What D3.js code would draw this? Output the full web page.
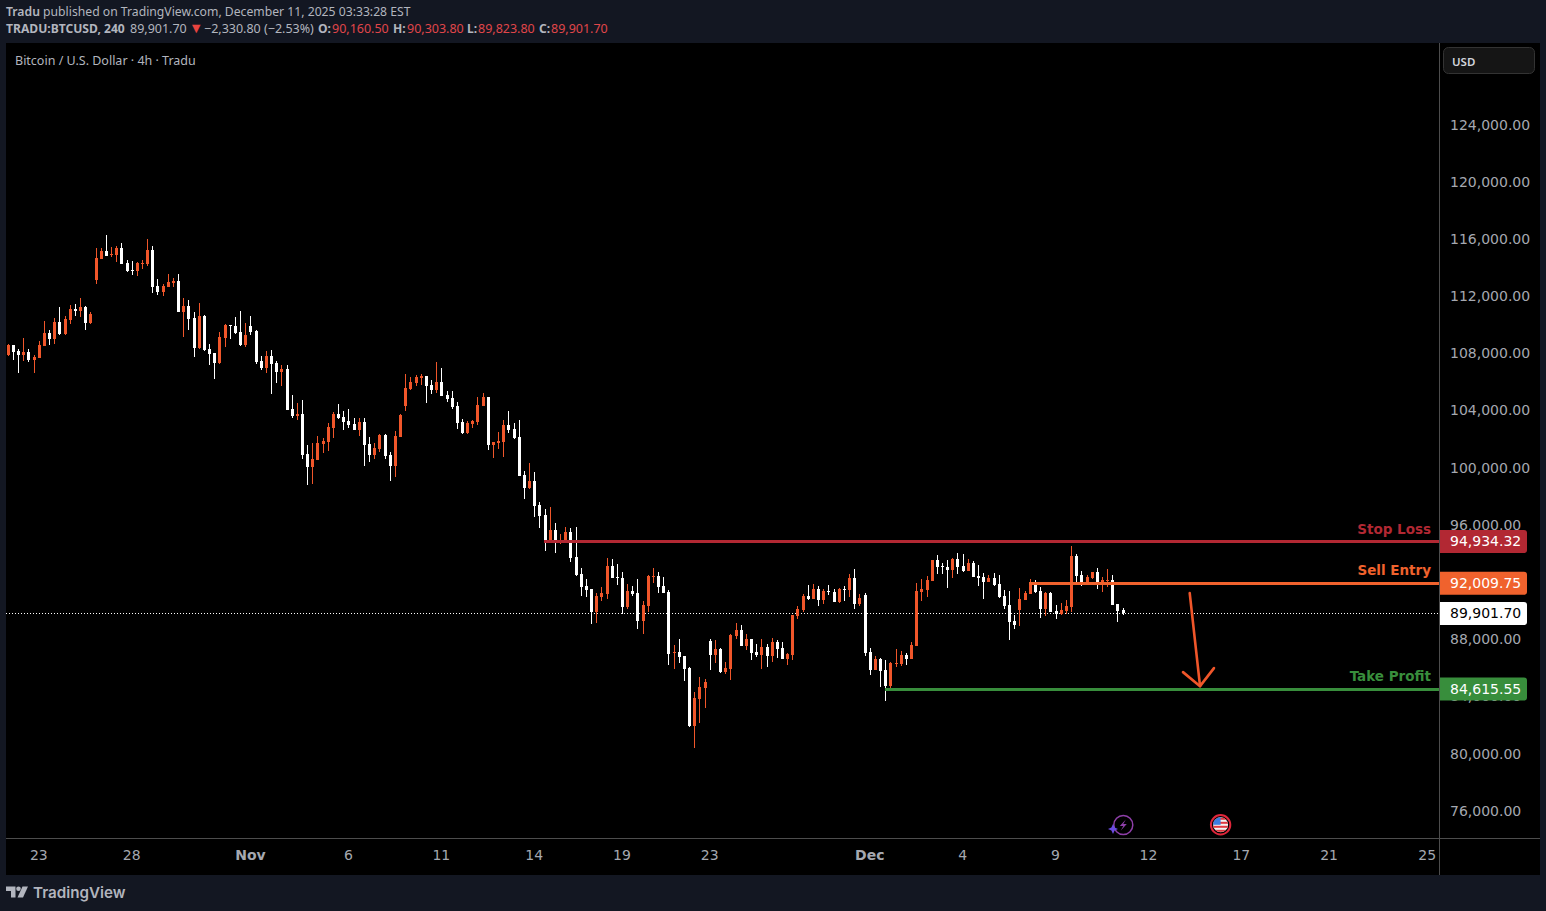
<!DOCTYPE html>
<meta charset="utf-8">
<style>
html, body { margin: 0; background: #131722; }
svg { display: block; }
text { font-family: "DejaVu Sans", sans-serif; }
.head { font-family: "Noto Sans", sans-serif; font-size: 12.2px; fill: #b2b5be; }
.axis text { font-size: 14px; fill: #a5a8b0; }
.axis path, .axis line { display: none; }
</style>
<svg width="1546" height="911"></svg>
<script src="https://d3js.org/d3.v7.min.js"></script>
<script>
// 4h candles, oldest first
var opens = [
  107970,108670,108250,107970,108180,107620,107760,108600,109510,109090,
  110280,109440,110420,111190,111050,111330,110210,113220,114690,115250,
  114970,114970,115460,114410,113920,113850,114340,114340,115320,112800,
  112380,112730,113010,113150,110980,111400,110560,108460,110700,108390,
  108110,107410,109160,110070,110000,109580,108670,110000,109650,107550,
  107060,107900,107410,106780,106990,104190,103700,103840,101040,100130,
  100620,101740,101880,102860,103840,103630,103350,103140,102720,103280,
  101740,100970,101390,102370,100970,100200,102230,104400,105590,106010,
  106360,106500,105870,105520,106080,105170,104960,104400,103280,102510,
  103140,103280,104400,105030,101670,101810,101880,103070,102790,102230,
  99570,98660,99150,97470,96770,95020,95720,94950,94950,95580,
  93830,92640,91800,91590,89980,91030,91240,93200,92430,92360,
  90330,91450,91310,89350,90400,92430,92500,91800,91380,87110,
  87180,86900,86060,82000,83890,84660,87950,86970,87390,85780,
  85990,88300,88720,87600,88090,87180,86970,87530,86900,87880,
  87460,86690,86970,89700,90120,91100,90890,91590,90820,91450,
  91380,90680,91590,91520,92360,90540,91170,87180,85920,86690,
  85920,84800,86340,86340,86970,86690,87600,91380,91520,92150,
  93620,93200,93130,92920,93690,93200,92850,93410,92500,92430,
  92080,92360,91940,91100,90470,89350,90120,90820,91240,91940,
  91450,90190,91310,90050,89840,90050,90330,93900,92570,92080,
  92360,92780,91870,92150,92220,90540,90160.5
];
var highs = [
  108740,108670,108390,109160,108390,107970,108950,110350,109720,110560,
  111330,110700,111470,111540,111960,111400,110980,115460,115460,116370,
  115530,115600,115810,114620,114550,114480,114620,116090,115600,113290,
  112940,113640,113360,113640,111960,111820,110980,111610,110770,108740,
  108110,109580,110140,110070,110630,111050,110210,110700,109720,107900,
  108250,108320,107550,107270,107270,105170,104610,104820,101670,101810,
  102300,102160,103210,103980,104540,104050,104190,103560,103560,103560,
  102230,101810,102440,102440,101180,102650,103840,106640,106430,106570,
  106640,106500,106220,107480,107060,105450,105450,104680,103490,103350,
  103420,105030,105310,105030,101880,102580,103420,104050,103210,103420,
  99850,100410,99780,97680,97190,97330,96210,95440,95930,95860,
  95930,93060,92290,91590,91310,91730,93760,93690,93340,92780,
  91940,91800,92290,90750,92570,93060,92780,92430,91520,87670,
  88090,86900,86130,84380,85430,85290,88090,88020,87460,86480,
  88440,89210,89070,88440,88090,87740,88090,87740,88160,88020,
  87880,87110,89770,90400,91240,91870,91940,91800,91590,91870,
  91590,91660,91800,92640,92990,91240,91310,87460,86900,86760,
  86620,86480,87390,87250,87110,87880,92010,92290,92500,93620,
  93970,93410,93620,93760,94110,94040,93690,93550,93270,92710,
  92570,92710,92570,91520,91450,89770,91660,91450,92290,92220,
  91730,91380,91380,90470,90610,90820,94600,94040,92850,92570,
  92780,93060,92430,92990,92570,90540,90303.8
];
var lows = [
  107900,107620,106710,107550,107480,106710,107760,108600,108670,108740,
  109370,109370,110140,110700,110630,109720,110140,112940,114690,114900,
  114830,114480,114340,113780,113570,113500,113990,114200,112310,112170,
  112100,112730,112730,110980,109230,109720,107830,108390,108250,107270,
  106290,107340,108530,109090,109440,108600,108530,109370,107340,106920,
  106710,105240,106010,105800,104120,103560,103420,100690,98870,98940,
  100620,101110,101250,102160,103490,102720,102860,102720,102300,100200,
  100480,100690,101180,100690,99150,99430,102230,104050,105520,105800,
  105870,104610,105240,105310,105100,104680,104190,102790,102440,102440,
  102860,103070,104400,101320,100760,101390,100830,102510,102090,99500,
  97890,98590,96630,95860,94250,94810,94110,94740,94810,93480,
  92500,91100,91030,89140,89210,90750,90890,92360,91870,89840,
  90190,91100,88790,88440,89980,92010,91310,91310,86270,85990,
  86410,85150,81930,80460,82210,83260,85920,86410,85710,85640,
  85220,88090,87600,87320,86620,86830,85990,86130,86480,86760,
  86690,86270,86620,89490,89980,90820,90890,90400,90540,91170,
  90680,90610,90750,91030,90190,90400,86900,85570,85920,84730,
  83750,84590,86130,86200,86270,86690,87600,90750,91030,92150,
  92640,92640,91660,92360,92640,92780,92850,92430,91800,90890,
  92080,91800,90960,90190,88020,88790,89000,90820,91240,91310,
  89560,89700,89980,89490,89770,89840,89980,92080,91800,92080,
  92290,91590,91380,91730,90470,89280,89823.8
];
var closes = [
  108670,108180,107970,108180,107620,107830,108670,109510,109090,110280,
  109440,110490,111190,111050,111330,110210,110840,114760,115250,114900,
  115040,115460,114340,113850,113850,114410,114410,115320,112730,112380,
  112800,113080,113150,110980,111400,110490,108460,110700,108320,108040,
  107410,109230,110070,110000,109510,108670,109370,109580,107480,107060,
  107900,107340,106780,106990,104120,103700,103840,100970,100130,100690,
  101810,101950,102930,103840,103560,103280,103070,102720,103280,101670,
  100970,101460,102370,100900,100200,102300,103770,105660,106080,106430,
  106500,105800,105520,106080,105100,104890,104330,103210,102510,103210,
  103350,104470,105030,101670,101880,101950,103070,102720,102160,99500,
  98660,99150,97400,96700,95020,95720,94950,95020,95580,93760,
  92570,91730,91520,89980,91100,91310,93200,92360,92360,90330,
  91450,91240,89350,90470,92500,92500,91730,91310,87040,87180,
  86830,85990,82000,83960,84730,85080,86970,87390,85780,86060,
  88370,88720,87600,88090,87110,86970,87530,86900,87880,87390,
  86690,87040,89770,90190,91100,90890,91590,90820,91450,91380,
  90680,91590,91520,92360,90540,90960,87110,85920,86690,85850,
  84800,86410,86410,86970,86690,87670,91450,91590,92220,93620,
  93130,93130,92920,93690,93130,92850,93410,92430,92360,92080,
  92360,91870,91030,90400,89280,89070,90890,91310,92080,91380,
  90190,91310,89980,89840,90120,90400,93900,92500,92080,92430,
  92780,91870,92220,92220,90470,90050,89901.7
];

var priceTicks = [76000,80000,84000,88000,92000,96000,100000,104000,108000,112000,116000,120000,124000];
var timeBars = [6,24,47,66,84,102,119,136,167,185,203,221,239,256,275];
var timeLabels = ["23","28","Nov","6","11","14","19","23","Dec","4","9","12","17","21","25"];

var levelNames = ["Stop Loss","Sell Entry","Take Profit"];
var levelPrices = [94934.32,92009.75,84615.55];
var levelStartBars = [103.8,197.7,169.8];
var levelColors = ["#b22833","#f0622d","#388e3c"];
var lastPrice = 89901.70;

// arrow sketched on the chart: [bar, price]
var arrowShaft = [[228.9,91330],[230.9,84820]];
var arrowHead = [[227.6,85800],[230.9,84820],[233.6,86080]];

var upColor = "#f0562a", downColor = "#ffffff";

var svg = d3.select("svg"),
    plotLeft = 6, plotRight = 1439, plotEdge = 1540, plotTop = 43, axisY = 838, plotBottom = 875;

svg.append("rect").attr("x", plotLeft).attr("y", plotTop).attr("width", plotEdge - plotLeft).attr("height", plotBottom - plotTop).attr("fill", "#000");

var x = d3.scaleLinear().domain([-0.45, 277.2]).range([plotLeft, plotRight]);
var y = d3.scaleLinear().domain([76000, 124000]).range([812.2, 126.1]);

// separators
svg.append("rect").attr("x", plotRight).attr("y", plotTop).attr("width", 1).attr("height", plotBottom - plotTop).attr("fill", "#4d4d4d");
svg.append("rect").attr("x", plotLeft).attr("y", axisY).attr("width", plotEdge - plotLeft).attr("height", 1).attr("fill", "#4d4d4d");

// header
var l1 = svg.append("text").attr("class", "head").attr("x", 6).attr("y", 16);
l1.append("tspan").attr("font-weight", 600).text("Tradu");
l1.append("tspan").text(" published on TradingView.com, December 11, 2025 03:33:28 EST");

// second header line: [text, x, weight, colour]
var quoteParts = [
  ["TRADU:BTCUSD, 240", 6, 700, null],
  ["89,901.70", 130, 400, null],
  ["▼", 189, 400, "#e8433f"],
  ["−2,330.80 (−2.53%)", 204, 400, null],
  ["O:", 318, 700, null],
  ["90,160.50", 332, 400, "#e0464a"],
  ["H:", 393, 700, null],
  ["90,303.80", 407, 400, "#e0464a"],
  ["L:", 467, 700, null],
  ["89,823.80", 478, 400, "#e0464a"],
  ["C:", 539, 700, null],
  ["89,901.70", 551, 400, "#e0464a"]
];
var l2 = svg.append("text").attr("class", "head").attr("y", 33).style("font-size", "12.5px");
quoteParts.forEach(function(d) {
  var t = l2.append("tspan").attr("x", d[1]).attr("font-weight", d[2]).text(d[0]);
  if (d[2] == 700) t.style("font-size", "12.1px");
  if (d[0] == "▼") t.style("font-size", "14.5px");
  if (d[3]) t.attr("fill", d[3]);
});

svg.append("text").attr("class", "head").attr("x", 15).attr("y", 65).style("font-size", "12.5px").text("Bitcoin / U.S. Dollar · 4h · Tradu");

// axes
svg.append("g").attr("class", "axis")
    .attr("transform", "translate(" + plotRight + ",0)")
    .call(d3.axisRight(y).tickValues(priceTicks).tickSize(0).tickPadding(11).tickFormat(d3.format(",.2f")))
  .selectAll("text").attr("y", -1.5);

svg.append("g").attr("class", "axis")
    .attr("transform", "translate(0," + axisY + ")")
    .call(d3.axisBottom(x).tickValues(timeBars).tickSize(0).tickPadding(12)
      .tickFormat(function(d, i) { return timeLabels[i]; }))
  .selectAll("text").attr("x", -1)
    .attr("font-weight", function(d, i) { return /[A-Z]/.test(timeLabels[i]) ? 700 : null; });

// last price dotted line
svg.append("line").attr("x1", plotLeft).attr("x2", plotRight)
    .attr("y1", Math.round(y(lastPrice)) + 0.5).attr("y2", Math.round(y(lastPrice)) + 0.5)
    .attr("stroke", "#fff").attr("stroke-dasharray", "1 2");

// candles
var candles = svg.append("g").attr("shape-rendering", "crispEdges")
  .selectAll("g").data(d3.range(opens.length)).join("g")
    .attr("fill", function(i) { return closes[i] >= opens[i] ? upColor : downColor; });

candles.append("rect")
    .attr("x", function(i) { return Math.floor(x(i)); })
    .attr("width", 1)
    .attr("y", function(i) { return Math.round(y(highs[i])); })
    .attr("height", function(i) { return Math.max(1, Math.round(y(lows[i])) - Math.round(y(highs[i]))); });

candles.append("rect")
    .attr("x", function(i) { return Math.floor(x(i)) - 1; })
    .attr("width", 3)
    .attr("y", function(i) { return Math.round(y(Math.max(opens[i], closes[i]))); })
    .attr("height", function(i) { return Math.max(1, Math.round(y(Math.min(opens[i], closes[i]))) - Math.round(y(Math.max(opens[i], closes[i])))); });

// trade levels
levelPrices.forEach(function(p, i) {
  svg.append("rect").attr("x", x(levelStartBars[i])).attr("y", Math.round(y(p) - 0.2) - 1)
      .attr("width", plotRight - x(levelStartBars[i])).attr("height", 3).attr("fill", levelColors[i])
      .attr("shape-rendering", "crispEdges");
  svg.append("text").attr("x", 1431).attr("y", y(p) - 8).attr("text-anchor", "end")
      .attr("font-size", 13.5).attr("font-weight", 700).attr("fill", levelColors[i]).text(levelNames[i]);
});

var arrowLine = d3.line().x(function(d) { return x(d[0]); }).y(function(d) { return y(d[1]); });
[arrowShaft, arrowHead].forEach(function(pts) {
  svg.append("path").attr("d", arrowLine(pts)).attr("fill", "none")
      .attr("stroke", upColor).attr("stroke-width", 2.6).attr("stroke-linecap", "round").attr("stroke-linejoin", "round");
});

// price tags
function priceTag(p, bg, fg) {
  var cy = y(p);
  svg.append("path")
      .attr("d", "M1440," + (cy - 11.5) + "h84a3,3 0 0 1 3,3v17a3,3 0 0 1 -3,3h-84z")
      .attr("fill", bg);
  svg.append("text").attr("x", 1450).attr("y", cy - 0.4).attr("dy", "0.36em")
      .attr("font-size", 14).attr("fill", fg).text(d3.format(",.2f")(p));
}
levelPrices.forEach(function(p, i) { priceTag(p, levelColors[i], "#fff"); });
priceTag(lastPrice, "#fff", "#000");

// currency box
svg.append("rect").attr("x", 1443.5).attr("y", 47.5).attr("width", 91).attr("height", 26).attr("rx", 5)
    .attr("fill", "#151515").attr("stroke", "#333");
svg.append("text").attr("x", 1452).attr("y", 65.5).attr("fill", "#d1d4dc")
    .style("font-family", "'Noto Sans', sans-serif").attr("font-size", 11.5).attr("font-weight", 600).text("USD");

// event markers
var bolt = svg.append("g").attr("transform", "translate(1123.3,825)");
bolt.append("circle").attr("r", 9.5).attr("fill", "#000").attr("stroke", "#8e3fa8").attr("stroke-width", 1.5);
bolt.append("path").attr("d", "M2.5,-5.5L-3.5,1H0L-2.5,5.5L3.5,-1H0Z").attr("fill", "#8e3fa8");
svg.append("path").attr("d", "M1113,824l1.6,3.4l3.4,1.6l-3.4,1.6l-1.6,3.4l-1.6,-3.4l-3.4,-1.6l3.4,-1.6z").attr("fill", "#6a4be0");

var flag = svg.append("g").attr("transform", "translate(1220.6,824.8)");
flag.append("clipPath").attr("id", "flagclip").append("circle").attr("r", 7.5);
flag.append("circle").attr("r", 9.7).attr("fill", "#000").attr("stroke", "#e0263a").attr("stroke-width", 2);
var fl = flag.append("g").attr("clip-path", "url(#flagclip)");
fl.append("rect").attr("x", -8).attr("y", -8).attr("width", 16).attr("height", 16).attr("fill", "#f2f2f2");
[-7, -3, 1, 5].forEach(function(d) {
  fl.append("rect").attr("x", -8).attr("y", d).attr("width", 16).attr("height", 2).attr("fill", "#e0383e");
});
fl.append("rect").attr("x", -8).attr("y", -8).attr("width", 8).attr("height", 8).attr("fill", "#3b7de0");

// logo
var logo = svg.append("g").attr("fill", "#b2b5be");
logo.append("path").attr("d", "M6,886.5h9.5v11h-4.5v-6.5h-5z");
logo.append("circle").attr("cx", 18.5).attr("cy", 888.8).attr("r", 2.3);
logo.append("path").attr("d", "M22.5,886.5h5.5l-5,11h-5.5z");
svg.append("text").attr("x", 33).attr("y", 898).style("font-family", "Inter, sans-serif")
    .attr("font-size", 15.2).attr("font-weight", 600).attr("fill", "#b2b5be").text("TradingView");
</script>
